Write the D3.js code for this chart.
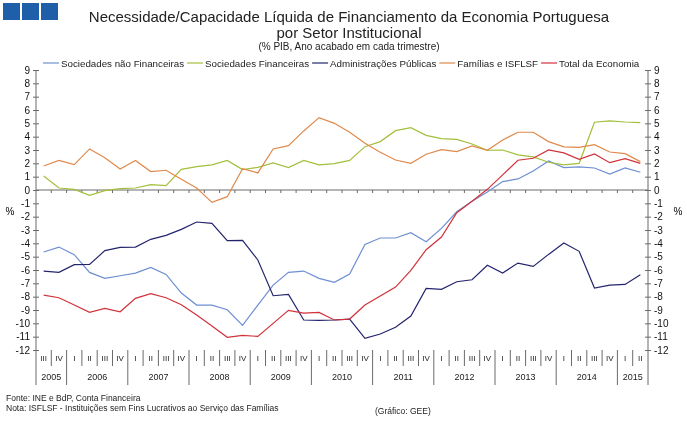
<!DOCTYPE html>
<html>
<head>
<meta charset="utf-8">
<script src="https://d3js.org/d3.v7.min.js"></script>
<style>
  body { margin: 0; background: #fff; }
  svg { font-family: "Liberation Sans", Arial, sans-serif; will-change: transform; }
</style>
</head>
<body>
<script>
// periods: 2005 III .. 2015 II
var periods = ["2005-III","2005-IV",
  "2006-I","2006-II","2006-III","2006-IV",
  "2007-I","2007-II","2007-III","2007-IV",
  "2008-I","2008-II","2008-III","2008-IV",
  "2009-I","2009-II","2009-III","2009-IV",
  "2010-I","2010-II","2010-III","2010-IV",
  "2011-I","2011-II","2011-III","2011-IV",
  "2012-I","2012-II","2012-III","2012-IV",
  "2013-I","2013-II","2013-III","2013-IV",
  "2014-I","2014-II","2014-III","2014-IV",
  "2015-I","2015-II"];

var yTicks = [-12,-11,-10,-9,-8,-7,-6,-5,-4,-3,-2,-1,0,1,2,3,4,5,6,7,8,9];

var naoFinanceiras = [-4.65,-4.28,-4.85,-6.18,-6.63,-6.43,-6.23,-5.8,-6.33,-7.73,
  -8.63,-8.63,-8.98,-10.15,-8.63,-7.13,-6.18,-6.08,-6.63,-6.93,
  -6.3,-4.08,-3.6,-3.6,-3.2,-3.88,-2.88,-1.63,-0.85,-0.15,
  0.63,0.83,1.43,2.18,1.68,1.73,1.65,1.2,1.65,1.33];
var financeiras = [1.05,0.15,0.05,-0.4,-0.05,0.1,0.15,0.4,0.33,1.55,
  1.75,1.88,2.22,1.53,1.7,2.03,1.68,2.22,1.88,1.98,
  2.22,3.25,3.63,4.45,4.68,4.1,3.85,3.8,3.45,2.98,
  3.0,2.63,2.48,2.08,1.88,2.0,5.08,5.18,5.1,5.05];
var adminPublicas = [-6.08,-6.18,-5.6,-5.58,-4.55,-4.3,-4.28,-3.7,-3.4,-2.95,
  -2.4,-2.5,-3.8,-3.78,-5.25,-7.93,-7.83,-9.75,-9.78,-9.75,
  -9.68,-11.13,-10.8,-10.3,-9.45,-7.38,-7.45,-6.88,-6.73,-5.65,
  -6.23,-5.48,-5.73,-4.83,-3.98,-4.6,-7.35,-7.13,-7.08,-6.35];
var familias = [1.8,2.22,1.9,3.08,2.42,1.58,2.22,1.38,1.48,0.8,
  0.15,-0.93,-0.5,1.6,1.28,3.08,3.33,4.43,5.43,5.0,
  4.33,3.5,2.83,2.25,2.0,2.68,3.03,2.88,3.3,2.98,
  3.75,4.33,4.33,3.63,3.23,3.2,3.4,2.85,2.73,2.13];
var totalEconomia = [-7.88,-8.08,-8.63,-9.18,-8.88,-9.13,-8.13,-7.78,-8.08,-8.6,
  -9.38,-10.2,-11.05,-10.9,-10.98,-10.0,-9.03,-9.23,-9.18,-9.75,
  -9.68,-8.63,-7.95,-7.28,-6.03,-4.48,-3.53,-1.7,-0.85,0.05,
  1.13,2.23,2.38,3.0,2.78,2.3,2.7,2.05,2.35,2.0];

var seriesNames = ["Sociedades não Financeiras","Sociedades Financeiras","Administrações Públicas","Famílias e ISFLSF","Total da Economia"];
var seriesValues = [naoFinanceiras, financeiras, adminPublicas, familias, totalEconomia];
var seriesColors = ["#6d8fd2","#a3bf3c","#24246e","#e0894c","#d1323b"];

var W = 687, H = 429;
var svg = d3.select("body").append("svg").attr("width", W).attr("height", H);

// header squares
[3, 22, 41].forEach(function(sx) {
  svg.append("rect").attr("x", sx).attr("y", 3).attr("width", 17).attr("height", 17).attr("fill", "#1f5ea8");
});

svg.append("text").attr("x", 349).attr("y", 22).attr("text-anchor", "middle")
  .attr("font-size", 15).attr("fill", "#222")
  .text("Necessidade/Capacidade Líquida de Financiamento da Economia Portuguesa");
svg.append("text").attr("x", 349).attr("y", 38).attr("text-anchor", "middle")
  .attr("font-size", 15).attr("fill", "#222")
  .text("por Setor Institucional");
svg.append("text").attr("x", 349).attr("y", 50).attr("text-anchor", "middle")
  .attr("font-size", 10).attr("fill", "#222")
  .text("(% PIB, Ano acabado em cada trimestre)");

var pLeft = 36, pRight = 648, pTop = 70, pBottom = 350;
var x = d3.scaleBand().domain(periods).range([pLeft, pRight]);
var y = d3.scaleLinear().domain([-12, 9]).range([pBottom, pTop]);
var cx = function(p) { return x(p) + x.bandwidth() / 2; };
var fmt = function(d) { return String(d); };  // plain hyphen minus

var axisColor = "#6b6b6b";

// left axis
var gl = svg.append("g").attr("transform", "translate(" + pLeft + ",0)")
  .call(d3.axisLeft(y).tickValues(yTicks).tickSize(3).tickPadding(3).tickFormat(fmt));
gl.select(".domain").remove();
gl.selectAll(".tick line").attr("x1", 3).attr("stroke", axisColor);
gl.selectAll(".tick text").attr("font-size", 10).attr("font-family", "Liberation Sans, Arial, sans-serif").attr("fill", "#111");

// right axis
var gr = svg.append("g").attr("transform", "translate(" + pRight + ",0)")
  .call(d3.axisRight(y).tickValues(yTicks).tickSize(3).tickPadding(3).tickFormat(fmt));
gr.select(".domain").remove();
gr.selectAll(".tick line").attr("x1", -3).attr("stroke", axisColor);
gr.selectAll(".tick text").attr("font-size", 10).attr("font-family", "Liberation Sans, Arial, sans-serif").attr("fill", "#111");

// vertical axis lines, extended to the year row
svg.append("line").attr("x1", pLeft).attr("x2", pLeft).attr("y1", pTop).attr("y2", 385).attr("stroke", axisColor);
svg.append("line").attr("x1", pRight).attr("x2", pRight).attr("y1", pTop).attr("y2", 385).attr("stroke", axisColor);

svg.append("text").attr("x", 10).attr("y", 215).attr("text-anchor", "middle").attr("font-size", 10).text("%");
svg.append("text").attr("x", 678).attr("y", 215).attr("text-anchor", "middle").attr("font-size", 10).text("%");

// zero line with quarter ticks
svg.append("line").attr("x1", pLeft).attr("x2", pRight).attr("y1", y(0)).attr("y2", y(0)).attr("stroke", axisColor);
svg.selectAll(".zt").data(periods.slice(1)).enter().append("line")
  .attr("x1", function(p) { return x(p); }).attr("x2", function(p) { return x(p); })
  .attr("y1", y(0)).attr("y2", y(0) + 3).attr("stroke", axisColor);

// category axis: quarters and years
svg.selectAll(".qsep").data(periods.slice(1)).enter().append("line")
  .attr("x1", function(p) { return x(p); }).attr("x2", function(p) { return x(p); })
  .attr("y1", pBottom).attr("y2", function(p) { return p.split("-")[1] === "I" ? 385 : 366; })
  .attr("stroke", axisColor);
svg.selectAll(".qlab").data(periods).enter().append("text")
  .attr("x", cx).attr("y", 361).attr("text-anchor", "middle").attr("font-size", 8).attr("fill", "#222")
  .text(function(p) { return p.split("-")[1]; });

var years = Array.from(new Set(periods.map(function(p) { return p.split("-")[0]; })));
years.forEach(function(yr) {
  var ps = periods.filter(function(p) { return p.split("-")[0] === yr; });
  var x0 = x(ps[0]), x1 = x(ps[ps.length - 1]) + x.bandwidth();
  svg.append("text").attr("x", (x0 + x1) / 2).attr("y", 380).attr("text-anchor", "middle")
    .attr("font-size", 9).attr("fill", "#222").text(yr);
});

// series
var line = d3.line().x(function(d, i) { return cx(periods[i]); }).y(function(d) { return y(d); });
seriesValues.forEach(function(vals, k) {
  svg.append("path").datum(vals).attr("d", line).attr("fill", "none")
    .attr("stroke", seriesColors[k]).attr("stroke-width", 1.2);
});

// legend
var lx = 43;
seriesNames.forEach(function(name, k) {
  svg.append("line").attr("x1", lx).attr("x2", lx + 16).attr("y1", 63).attr("y2", 63)
    .attr("stroke", seriesColors[k]).attr("stroke-width", 1.2);
  var t = svg.append("text").attr("x", lx + 18).attr("y", 66.5).attr("font-size", 9.75).attr("fill", "#222").text(name);
  lx += 18 + t.node().getComputedTextLength() + 3;
});

// footer
svg.append("text").attr("x", 6).attr("y", 401).attr("font-size", 8.5).attr("fill", "#222").text("Fonte: INE e BdP, Conta Financeira");
svg.append("text").attr("x", 6).attr("y", 411).attr("font-size", 8.5).attr("fill", "#222").text("Nota: ISFLSF - Instituições sem Fins Lucrativos ao Serviço das Famílias");
svg.append("text").attr("x", 375).attr("y", 414).attr("font-size", 8.5).attr("fill", "#222").text("(Gráfico: GEE)");
</script>
</body>
</html>
